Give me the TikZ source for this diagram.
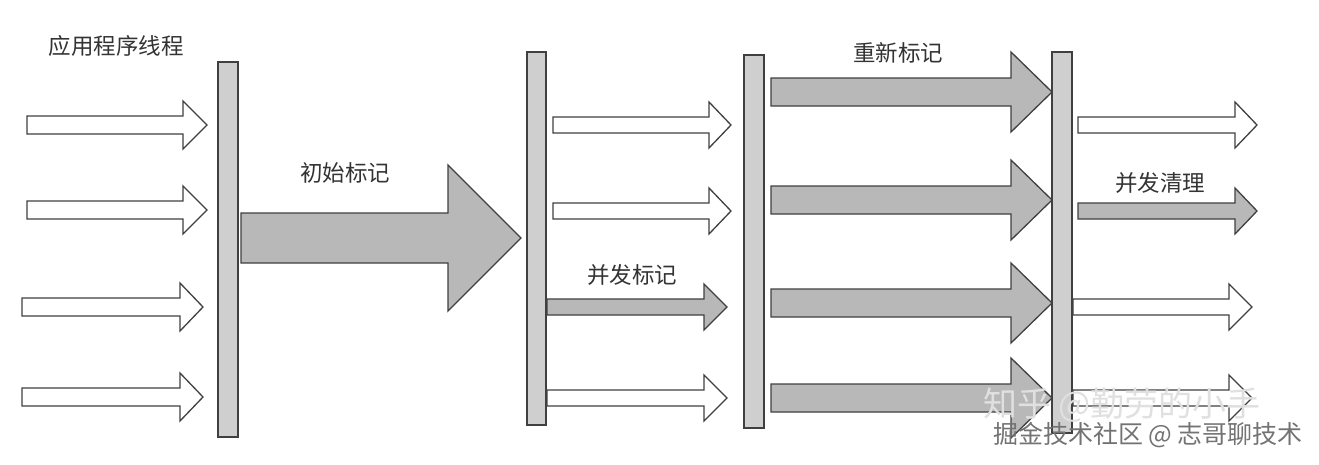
\documentclass[tikz,border=0pt]{standalone}
\usepackage{fontspec}
\setmainfont{Noto Sans CJK SC}

\begin{document}
\begin{tikzpicture}[x=1pt,y=-1pt,
    bar/.style={draw=black!75, fill=black!19, line width=1.3pt},
    whitearrow/.style={draw=black!75, fill=white, line width=1.3pt},
    grayarrow/.style={draw=black!75, fill=black!28, line width=1.3pt},
    lbl/.style={font=\fontsize{22.5}{26}\selectfont, text=black!80, inner sep=0pt},
    watermark/.style={inner sep=0pt}]
  \useasboundingbox (0,0) rectangle (1319,464);
  % safepoint bars
  \draw[bar] (218,62) rectangle (238,437);
  \draw[bar] (527,52) rectangle (546,425);
  \draw[bar] (744,55) rectangle (764,428);
  \draw[bar] (1052,52) rectangle (1072,433);
  % white arrows: start/head base/tip/centre/shaft/head
  \foreach \xa/\xb/\xt/\yc/\s/\h in {27/183/207/125/9/24, 27/183/207/210/9/24,
      22/180/203/307/9/24, 22/180/203/397/9/24,
      553/709/731/125/8/23, 553/709/731/211/8/23, 547/704/727/398/8/23,
      1078/1235/1257/125/8/23, 1073/1229/1252/307/8/23, 1073/1229/1252/398/8/23}
    \draw[whitearrow] (\xa,{\yc-\s}) -- (\xb,{\yc-\s}) -- (\xb,{\yc-\h}) -- (\xt,\yc)
      -- (\xb,{\yc+\h}) -- (\xb,{\yc+\s}) -- (\xa,{\yc+\s}) -- cycle;
  % gray arrows
  \foreach \xa/\xb/\xt/\yc/\s/\h in {241/448/521/238/25/73,
      547/704/727/307/8/23, 1078/1235/1257/211/8/23,
      771/1011/1052/92/14/40, 771/1011/1052/200/14/40,
      771/1011/1052/303/14/40, 771/1011/1052/398/14/40}
    \draw[grayarrow] (\xa,{\yc-\s}) -- (\xb,{\yc-\s}) -- (\xb,{\yc-\h}) -- (\xt,\yc)
      -- (\xb,{\yc+\h}) -- (\xb,{\yc+\s}) -- (\xa,{\yc+\s}) -- cycle;
  % labels
  \node[lbl] (threads) at (116,46) {应用程序线程};
  \node[lbl] (initial) at (345,173) {初始标记};
  \node[lbl] (concmark) at (632,275) {并发标记};
  \node[lbl] (remark) at (898,53) {重新标记};
  \node[lbl] (sweep) at (1160,183) {并发清理};
  % watermarks
  \node[watermark, font=\fontsize{34}{38}\selectfont, text=black!12] (zhihu) at (1122,405) {知乎 @勤劳的小手};
  \node[watermark, font=\fontsize{25}{28}\selectfont, text=black!55] (juejin) at (1148,435) {掘金技术社区 @ 志哥聊技术};
\end{tikzpicture}
\end{document}
